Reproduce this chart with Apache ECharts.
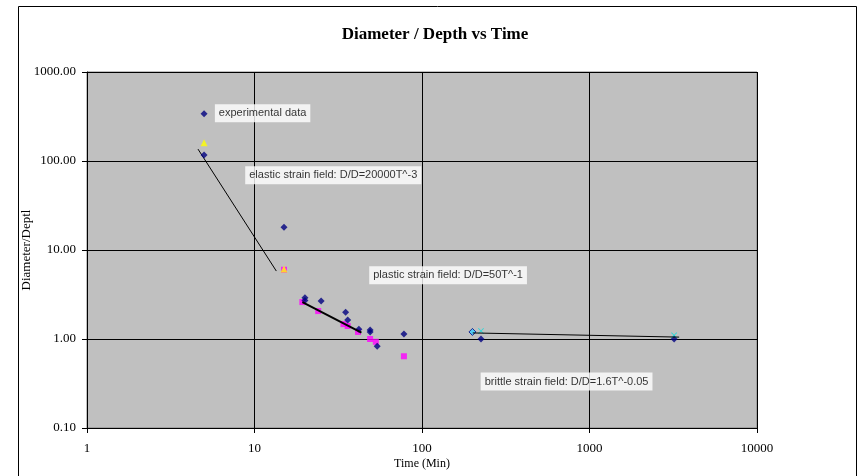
<!DOCTYPE html>
<html>
<head>
<meta charset="utf-8">
<script src="https://cdn.jsdelivr.net/npm/echarts@6/dist/echarts.min.js"></script>
<style>html,body{margin:0;padding:0;background:#fff}#c{width:861px;height:476px}</style>
</head>
<body>
<div id="c"></div>
<script>
// Axis ticks
const xTicks = [1, 10, 100, 1000, 10000];
const yTicks = [0.1, 1, 10, 100, 1000];

// Experimental data (navy diamonds)
const navyX = [5, 5, 15, 20, 20, 25, 35, 36, 42, 49, 49, 54, 78, 225, 3200];
const navyY = [340, 117, 18, 2.9, 2.7, 2.67, 2.0, 1.63, 1.29, 1.26, 1.2, 0.83, 1.14, 1.0, 1.0];

// Magenta squares
const magentaX = [15, 19.3, 24, 34, 36, 41.5, 49, 53, 78];
const magentaY = [6, 2.6, 2.06, 1.47, 1.4, 1.2, 1.0, 0.93, 0.64];

// Yellow triangles
const yellowX = [5, 15];
const yellowY = [160, 6.1];

// Cyan crosses
const cyanX = [225, 3200];
const cyanY = [1.23, 1.1];

// Light blue diamond
const blueX = [200];
const blueY = [1.2];

// Trend lines (endpoints)
const elasticX = [4.6, 13.5];
const elasticY = [136, 5.8];
const plasticX = [19.3, 43.5];
const plasticY = [2.6, 1.18];
const brittleX = [201, 3430];
const brittleY = [1.17, 1.05];

// Annotations
const noteText = ['experimental data', 'elastic strain field: D/D=20000T^-3', 'plastic strain field: D/D=50T^-1', 'brittle strain field: D/D=1.6T^-0.05'];
const noteX = [5.8, 8.8, 48.4, 224];
const noteY = [345, 69, 5.2, 0.333];

const zip = (a, b) => a.map((v, i) => [v, b[i]]);
const crossPath = 'path://M0,1L1,0L5,4L9,0L10,1L6,5L10,9L9,10L5,6L1,10L0,9L4,5Z';

const chart = echarts.init(document.getElementById('c'), null, {renderer: 'canvas'});
const serif = 'Liberation Serif';
chart.setOption({
  animation: false,
  backgroundColor: '#ffffff',
  title: {
    text: 'Diameter / Depth vs Time',
    left: 430, top: 21, textAlign: 'center',
    textStyle: {fontFamily: serif, fontWeight: 'bold', fontSize: 17, color: '#000'}
  },
  graphic: [{
    type: 'rect', left: 16, top: 4, shape: {width: 838, height: 480},
    style: {fill: 'none', stroke: '#000', lineWidth: 1}, silent: true, z: -1
  }],
  grid: {left: 87, right: 104, top: 72, bottom: 48, show: true, backgroundColor: '#c0c0c0', borderColor: '#808080', borderWidth: 1},
  xAxis: {
    type: 'log', logBase: 10, min: xTicks[0], max: xTicks[xTicks.length - 1],
    name: 'Time (Min)', nameLocation: 'middle', nameGap: 30, nameMoveOverlap: false,
    nameTextStyle: {fontFamily: serif, fontSize: 12, color: '#000'},
    axisLine: {show: true, onZero: false, lineStyle: {color: '#000', width: 1}},
    axisTick: {show: true, length: 5, lineStyle: {color: '#000'}},
    axisLabel: {fontFamily: serif, fontSize: 13, color: '#000', margin: 14, formatter: v => String(Math.round(v))},
    splitLine: {show: true, lineStyle: {color: '#000', width: 1}},
    minorTick: {show: false}
  },
  yAxis: {
    type: 'log', logBase: 10, min: yTicks[0], max: yTicks[yTicks.length - 1],
    name: 'Diameter/Deptl', nameLocation: 'middle', nameGap: 54, nameRotate: 90, nameMoveOverlap: false,
    nameTextStyle: {fontFamily: serif, fontSize: 13, color: '#000'},
    axisLine: {show: true, onZero: false, lineStyle: {color: '#000', width: 1}},
    axisTick: {show: true, length: 5, lineStyle: {color: '#000'}},
    axisLabel: {fontFamily: serif, fontSize: 13, color: '#000', margin: 11, formatter: v => Number(v).toFixed(2)},
    splitLine: {show: true, lineStyle: {color: '#000', width: 1}}
  },
  series: [
    {type: 'line', data: zip(elasticX, elasticY), symbol: 'none', lineStyle: {color: '#000', width: 1}, z: 2},
    {type: 'line', data: zip(plasticX, plasticY), symbol: 'none', lineStyle: {color: '#000', width: 2}, z: 4},
    {type: 'line', data: zip(brittleX, brittleY), symbol: 'none', lineStyle: {color: '#000', width: 1}, z: 4},
    {type: 'scatter', data: zip(magentaX, magentaY), symbol: 'rect', symbolSize: 6, itemStyle: {color: '#ff00ff'}, z: 3},
    {type: 'scatter', data: zip(navyX, navyY), symbol: 'diamond', symbolSize: 7, itemStyle: {color: '#000080'}, z: 3},
    {type: 'scatter', data: zip(yellowX, yellowY), symbol: 'triangle', symbolSize: 7, itemStyle: {color: '#ffff00'}, z: 3},
    {type: 'scatter', data: zip(cyanX, cyanY), symbol: crossPath, symbolSize: 6, itemStyle: {color: '#00e0e0'}, z: 3},
    {type: 'scatter', data: zip(blueX, blueY), symbol: 'diamond', symbolSize: 7, itemStyle: {color: '#33ccff', borderColor: '#000080', borderWidth: 1}, z: 3},
    {
      type: 'scatter', symbolSize: 0, z: 6, silent: true,
      data: noteX.map((x, i) => ({value: [x, noteY[i]], name: noteText[i]})),
      label: {
        show: true, position: 'right', distance: 0, formatter: p => p.name,
        backgroundColor: '#ffffff', padding: [4, 4, 3, 4],
        fontFamily: 'Liberation Sans', fontSize: 11, color: '#000'
      }
    }
  ]
});
</script>
</body>
</html>
